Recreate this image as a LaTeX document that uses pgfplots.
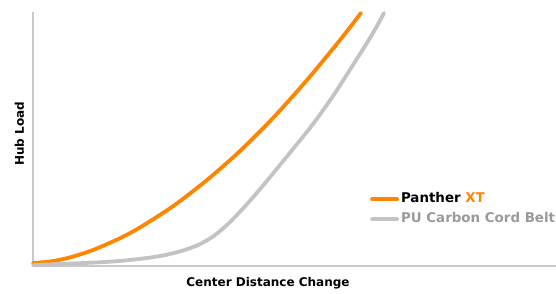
\documentclass[border=0pt]{standalone}
\usepackage{pgfplots}
\pgfplotsset{compat=1.18}
\usepackage{fontspec}
\setmainfont{DejaVu Sans}
\definecolor{pxorange}{HTML}{FF8500}
\definecolor{pugray}{HTML}{C3C3C6}
\definecolor{axgray}{HTML}{C8C8C8}
\definecolor{legray}{HTML}{9A9A9C}
\begin{document}
\begin{tikzpicture}[x=1pt,y=1pt]
\path[use as bounding box] (0,0) rectangle (556,293);
\begin{axis}[
  at={(33pt,27pt)}, anchor=origin,
  scale only axis, width=523pt, height=254pt,
  xmin=0, xmax=523, ymin=0, ymax=254,
  axis x line=bottom, axis y line=left,
  axis line style={axgray, line width=1.3pt, -},
  xtick=\empty, ytick=\empty,
  clip=false,
  legend style={at={(axis cs:337,75.5)}, anchor=north west, draw=none, fill=none,
    inner sep=0pt,
    font=\fontsize{13.4}{15}\selectfont\bfseries, row sep=3pt,
    nodes={inner sep=2pt, text height=10pt, text depth=3pt}},
  legend cell align=left,
  legend image code/.code={\draw[#1, line width=3.6pt, line cap=round] (4pt,0pt) -- (19.5pt,0pt); \path (0pt,0pt) -- (25pt,0pt);},
]
\addplot[pxorange, line width=3.8pt, line cap=round, smooth, tension=0.5] coordinates {
(0,3) (18,4.6) (37,8.6) (60,16) (87,27.8) (107,38.6) (140,59.8) (174,86) (207,115) (240,148) (274,186) (307,226) (328,253)
};
\addlegendentry{Panther \textcolor{pxorange}{XT}}
\addplot[pugray, line width=3.8pt, line cap=round, smooth, tension=0.5] coordinates {
(0,1) (40,2.5) (80,4.5) (110,7.5) (130,10.5) (150,15.5) (165,21) (180,29.5) (195,42) (210,57.5) (225,74.5) (240,92.5) (260,117) (280,142) (300,170) (320,201) (340,233) (351,253)
};
\addlegendentry{\textcolor{legray}{PU Carbon Cord Belt}}
\end{axis}
\node[rotate=90, font=\fontsize{12}{14}\selectfont\bfseries] at (19.3,159) {Hub Load};
\node[font=\fontsize{12}{14}\selectfont\bfseries] at (268,10) {Center Distance Change};
\end{tikzpicture}
\end{document}
